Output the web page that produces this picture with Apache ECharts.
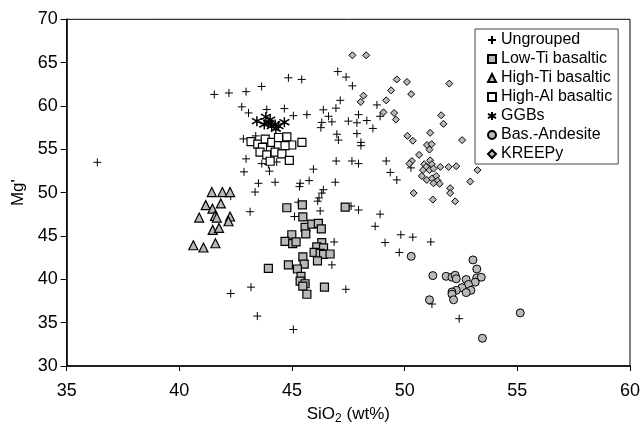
<!DOCTYPE html>
<html>
<head>
<meta charset="utf-8">
<script src="https://cdn.jsdelivr.net/npm/echarts@6/dist/echarts.min.js"></script>
<style>
html,body{margin:0;padding:0;background:#fff;}
#chart{width:643px;height:430px;}
</style>
</head>
<body>
<div id="chart"></div>
<script>
// Series names
const seriesNames = ['Ungrouped','Low-Ti basaltic','High-Ti basaltic','High-Al basaltic','GGBs','Bas.-Andesite','KREEPy'];

// Tick labels
const xTicks = [35,40,45,50,55,60];
const yTicks = [30,35,40,45,50,55,60,65,70];

// Data: [SiO2, Mg']
const ungrouped = [
  [36.36,53.5],[41.55,61.33],[42.2,61.5],[42.96,61.65],[43.65,62.25],[42.77,59.9],[43.07,59.2],
  [42.84,56.2],[42.96,53.9],[42.87,52.4],[42.28,49.6],[43.36,50.07],[43.14,47.8],[43.18,39.1],
  [42.28,38.36],[43.46,35.76],[43.88,59.6],[44.66,59.7],[45.06,58.88],[45.66,59.0],[46.39,59.56],
  [46.62,58.81],[46.32,58.1],[46.28,57.5],[46.77,58.17],[43.39,56.55],[43.66,53.35],[43.95,53.24],
  [44.0,52.48],[43.51,51.08],[44.25,51.2],[45.36,51.08],[45.33,50.7],[45.76,51.39],[45.95,52.71],
  [46.39,50.34],[46.32,49.95],[46.2,49.39],[46.14,49.02],[46.25,47.89],[44.84,63.25],[45.43,63.06],
  [47.03,63.97],[47.4,63.33],[47.68,62.32],[47.14,60.65],[46.95,59.75],[47.95,59.0],[47.88,58.06],
  [48.32,58.32],[48.59,57.41],[47.88,56.81],[48.06,55.8],[48.06,55.42],[47.5,58.25],[48.77,60.12],
  [48.91,58.81],[46.99,56.74],[47.06,56.06],[46.96,53.65],[47.66,53.65],[47.95,53.35],[49.18,53.65],
  [49.36,52.33],[49.65,51.47],[50.28,52.86],[46.92,51.2],[44.32,53.54],[45.28,48.9],[45.11,47.25],
  [47.62,48.45],[47.95,48.0],[48.91,47.52],[48.69,46.12],[45.66,45.63],[46.87,44.31],[46.77,41.67],
  [47.39,38.85],[45.06,34.21],[49.13,44.24],[49.83,45.14],[50.36,44.87],[51.16,44.31],[49.76,43.1],
  [51.21,37.15],[52.42,35.46]
];
const lowTi = [
  [44.77,48.26],[45.46,48.6],[47.36,48.34],[45.48,47.2],[45.58,46.0],[45.88,46.38],[46.17,46.45],
  [46.3,45.82],[45.61,45.25],[44.99,45.14],[44.69,44.38],[45.03,44.12],[45.18,44.31],[46.32,44.24],
  [46.1,43.74],[46.4,43.63],[45.98,43.1],[46.25,43.0],[46.4,42.88],[46.69,42.92],[46.13,42.12],
  [45.48,42.6],[45.54,41.75],[44.84,41.67],[45.24,41.19],[43.95,41.26],[45.4,40.35],[45.36,39.79],
  [45.58,39.49],[45.48,39.22],[46.44,39.11],[45.66,38.28]
];
const highTi = [
  [41.44,50.07],[41.91,50.07],[42.25,50.07],[41.17,48.56],[41.47,48.15],[41.84,48.76],[40.88,47.13],
  [41.58,47.32],[41.66,47.13],[42.25,47.25],[42.18,46.7],[41.48,45.7],[41.76,45.93],[40.62,43.93],
  [41.07,43.67],[41.6,44.16]
];
const highAl = [
  [43.18,55.88],[43.48,55.6],[43.81,56.17],[44.1,55.8],[44.4,56.36],[44.77,56.44],[44.99,55.5],
  [45.44,55.8],[43.69,55.23],[44.4,55.42],[44.69,55.42],[43.58,54.67],[43.88,54.36],[44.25,54.67],
  [44.55,54.48],[44.03,53.62],[44.88,53.73]
];
const ggbs = [
  [43.44,58.25],[43.84,58.74],[43.95,58.06],[44.1,57.68],[44.28,57.38],[44.4,57.68],[44.66,58.13],
  [43.77,57.87],[44.25,57.87],[44.03,58.43]
];
const basAndesite = [
  [50.29,42.65],[51.25,40.43],[53.03,42.24],[53.2,41.19],[51.84,40.35],[52.1,40.24],[52.24,40.47],
  [52.29,40.06],[52.73,39.98],[53.2,40.17],[53.4,40.24],[53.13,39.67],[52.83,39.41],[52.54,39.04],
  [52.94,38.73],[52.73,38.47],[52.29,38.73],[52.1,38.54],[52.1,38.28],[52.17,37.64],[51.1,37.64],
  [55.13,36.13],[53.45,33.2]
];
const kreepy = [
  [47.68,65.85],[48.29,65.85],[49.65,63.06],[50.1,62.77],[49.4,61.8],[50.29,61.37],[48.17,61.19],
  [48.05,60.47],[49.18,60.65],[49.06,59.27],[49.53,59.19],[49.61,58.43],[51.98,62.58],[51.62,58.93],
  [51.72,57.94],[51.13,56.9],[52.55,56.06],[50.12,56.55],[50.36,55.99],[50.99,55.5],[51.2,55.6],
  [51.1,54.97],[50.64,54.36],[50.32,53.65],[50.21,53.35],[50.87,53.28],[51.13,53.73],[51.21,53.28],
  [50.95,52.97],[50.81,52.6],[51.1,52.6],[51.28,52.78],[51.58,52.97],[51.95,52.97],[52.29,53.05],
  [53.23,52.6],[50.76,51.92],[50.98,51.47],[51.21,51.65],[51.4,51.92],[51.46,51.39],[51.55,51.02],
  [51.28,51.08],[52.91,51.28],[52.02,50.52],[52.02,49.95],[50.4,49.95],[51.25,49.2],[52.24,49.0]
];

const FONT = 'Liberation Sans, Arial, sans-serif';
const GREY = '#b9b9b9';
const PLUS = 'path://M0,5L10,5M5,0L5,10';
const STAR = 'path://M5,0L5,10M0,2.2L10,7.8M0,7.8L10,2.2';

const chart = echarts.init(document.getElementById('chart'), null, {renderer:'canvas'});

function sc(name, data, symbol, size, fill, bw) {
  return {
    type:'scatter', name:name, data:data, symbol:symbol, symbolSize:size,
    itemStyle:{color:fill, borderColor:'#000', borderWidth:bw, opacity:1},
    emphasis:{disabled:true}
  };
}

const option = {
  animation:false,
  backgroundColor:'#fff',
  grid:{left:66.7, right:13, top:19.3, bottom:56.7, show:true, borderColor:'#000', borderWidth:1, backgroundColor:'transparent'},
  xAxis:{
    type:'value', min:xTicks[0], max:xTicks[xTicks.length-1], interval:5,
    axisLine:{show:true, onZero:false, lineStyle:{color:'#000', width:1.5}},
    axisTick:{show:true, length:5, lineStyle:{color:'#000', width:1}},
    axisLabel:{color:'#000', fontSize:18, fontFamily:FONT, margin:16},
    splitLine:{show:false},
    name:'{a|SiO}{b|2}{a| (wt%)}',
    nameLocation:'middle', nameGap:38,
    nameTextStyle:{
      rich:{
        a:{fontSize:17, fontFamily:FONT, color:'#000'},
        b:{fontSize:12, fontFamily:FONT, color:'#000', padding:[9,0,0,0]}
      }
    }
  },
  yAxis:{
    type:'value', min:yTicks[0], max:yTicks[yTicks.length-1], interval:5,
    axisLine:{show:true, onZero:false, lineStyle:{color:'#000', width:1.5}},
    axisTick:{show:true, length:6, lineStyle:{color:'#000', width:1}},
    axisLabel:{color:'#000', fontSize:18, fontFamily:FONT, margin:9},
    splitLine:{show:false},
    name:"Mg'", nameLocation:'middle', nameGap:40, nameRotate:90,
    nameTextStyle:{fontSize:17, fontFamily:FONT, color:'#000'}
  },
  legend:{
    orient:'vertical', left:475, top:29,
    padding:[3,6,2,12],
    itemWidth:8, itemHeight:8, itemGap:3,
    borderColor:'#444', borderWidth:1, backgroundColor:'#fff',
    textStyle:{fontSize:16, fontFamily:FONT, color:'#000', padding:[0,0,0,0]},
    data:seriesNames,
    selectedMode:false
  },
  series:[
    sc(seriesNames[0], ungrouped, PLUS, 8, '#000', 1),
    sc(seriesNames[1], lowTi, 'rect', 8, GREY, 1.2),
    sc(seriesNames[2], highTi, 'triangle', 9, GREY, 1.2),
    sc(seriesNames[3], highAl, 'rect', 8, '#fff', 1.2),
    sc(seriesNames[4], ggbs, STAR, 10, '#000', 1.5),
    sc(seriesNames[5], basAndesite, 'circle', 8, GREY, 1),
    sc(seriesNames[6], kreepy, 'diamond', 7, GREY, 1)
  ]
};
chart.setOption(option);
</script>
</body>
</html>
